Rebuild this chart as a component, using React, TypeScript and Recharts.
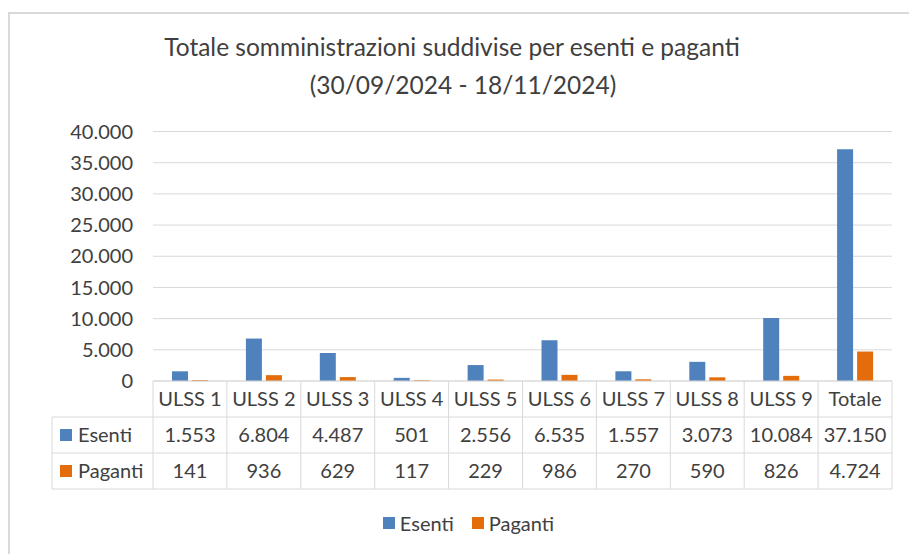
import { BarChart, Bar, XAxis, YAxis, CartesianGrid, Legend } from 'recharts';

const CATEGORIES = ['ULSS 1', 'ULSS 2', 'ULSS 3', 'ULSS 4', 'ULSS 5', 'ULSS 6', 'ULSS 7', 'ULSS 8', 'ULSS 9', 'Totale'];
const ESENTI = [1553, 6804, 4487, 501, 2556, 6535, 1557, 3073, 10084, 37150];
const PAGANTI = [141, 936, 629, 117, 229, 986, 270, 590, 826, 4724];
const Y_TICKS = [0, 5000, 10000, 15000, 20000, 25000, 30000, 35000, 40000];
const TITLE_LINES = ['Totale somministrazioni suddivise per esenti e paganti', '(30/09/2024 - 18/11/2024)'];

const SERIES = [
  { key: 'esenti', name: 'Esenti', color: '#4F81BD', values: ESENTI },
  { key: 'paganti', name: 'Paganti', color: '#E46C0A', values: PAGANTI },
];

const data = CATEGORIES.map((name, i) => ({
  name,
  esenti: ESENTI[i],
  paganti: PAGANTI[i],
}));

const W = 909;
const H = 554;
const FONT = 'Lato, "Open Sans", sans-serif';
const TEXT = '#404040';
const GRID = '#d9d9d9';
const PLOT_LEFT = 153;
const PLOT_RIGHT = 17;
const ROW_H = 36;
const KEY_COL_X = 52;

// italian thousands separator
const fmt = (n: number) => String(n).replace(/\B(?=(\d{3})+(?!\d))/g, '.');

function TableTick(props: any) {
  const { x, y, payload } = props;
  const i = payload.index;
  const colW = (W - PLOT_LEFT - PLOT_RIGHT) / CATEGORIES.length;
  const left = x - colW / 2;
  const right = x + colW / 2;
  const bottom = y + ROW_H * 3;
  const txt = { fontFamily: FONT, fontSize: 20, fill: TEXT, textAnchor: 'middle' as const };

  return (
    <g>
      <line x1={right} x2={right} y1={y} y2={bottom} stroke={GRID} />
      {i === 0 && (
        <g>
          <line x1={left} x2={left} y1={y} y2={bottom} stroke={GRID} />
          <line x1={KEY_COL_X} x2={KEY_COL_X} y1={y + ROW_H} y2={bottom} stroke={GRID} />
          {[1, 2, 3].map((r) => (
            <line key={r} x1={KEY_COL_X} x2={left} y1={y + ROW_H * r} y2={y + ROW_H * r} stroke={GRID} />
          ))}
          {SERIES.map((s, r) => (
            <g key={s.key}>
              <rect x={KEY_COL_X + 8} y={y + ROW_H * (r + 1) + 12} width={12} height={12} fill={s.color} />
              <text x={KEY_COL_X + 26} y={y + ROW_H * (r + 1.5)} dy="0.35em" {...txt} textAnchor="start">
                {s.name}
              </text>
            </g>
          ))}
        </g>
      )}
      {[1, 2, 3].map((r) => (
        <line key={r} x1={left} x2={right} y1={y + ROW_H * r} y2={y + ROW_H * r} stroke={GRID} />
      ))}
      <text x={x} y={y + ROW_H * 0.5} dy="0.35em" {...txt}>
        {payload.value}
      </text>
      {SERIES.map((s, r) => (
        <text key={s.key} x={x} y={y + ROW_H * (r + 1.5)} dy="0.35em" {...txt}>
          {fmt(s.values[i])}
        </text>
      ))}
    </g>
  );
}

function LegendContent() {
  return (
    <div style={{ display: 'flex', justifyContent: 'center', paddingRight: 28, height: 30, alignItems: 'center', fontFamily: FONT, fontSize: 20, color: TEXT }}>
      {SERIES.map((s) => (
        <div key={s.key} style={{ display: 'flex', alignItems: 'center', margin: '0 9px' }}>
          <span style={{ width: 12, height: 12, background: s.color, marginRight: 5, display: 'inline-block' }} />
          {s.name}
        </div>
      ))}
    </div>
  );
}

export default function App() {
  return (
    <div style={{ position: 'absolute', left: 0, top: 0, width: W, height: H, overflow: 'hidden', background: '#fff' }}>
      <div style={{ position: 'absolute', left: 8, top: 12, width: 960, height: 620, border: `2px solid ${GRID}` }} />
      <BarChart
        width={W}
        height={H}
        data={data}
        margin={{ top: 131.5, right: PLOT_RIGHT, left: PLOT_LEFT - 80, bottom: 35 }}
        barGap={4}
      >
        <text x={452} y={47} dy="0.35em" textAnchor="middle" fontFamily={FONT} fontSize={24.5} fill={TEXT}>
          {TITLE_LINES[0]}
        </text>
        <text x={463} y={85} dy="0.35em" textAnchor="middle" fontFamily={FONT} fontSize={24.5} fill={TEXT}>
          {TITLE_LINES[1]}
        </text>
        <CartesianGrid vertical={false} stroke={GRID} />
        <XAxis
          dataKey="name"
          interval={0}
          height={108}
          tickSize={0}
          tickMargin={0}
          stroke={GRID}
          tick={<TableTick />}
        />
        <YAxis
          width={80}
          domain={[0, 40000]}
          ticks={Y_TICKS}
          axisLine={false}
          tickLine={false}
          tickSize={0}
          tickMargin={20}
          tickFormatter={fmt}
          tick={{ fontFamily: FONT, fontSize: 20, fill: TEXT }}
        />
        <Legend verticalAlign="bottom" content={<LegendContent />} wrapperStyle={{ top: 508, bottom: 'auto' }} />
        {SERIES.map((s) => (
          <Bar key={s.key} dataKey={s.key} name={s.name} fill={s.color} barSize={16} isAnimationActive={false} />
        ))}
      </BarChart>
    </div>
  );
}
